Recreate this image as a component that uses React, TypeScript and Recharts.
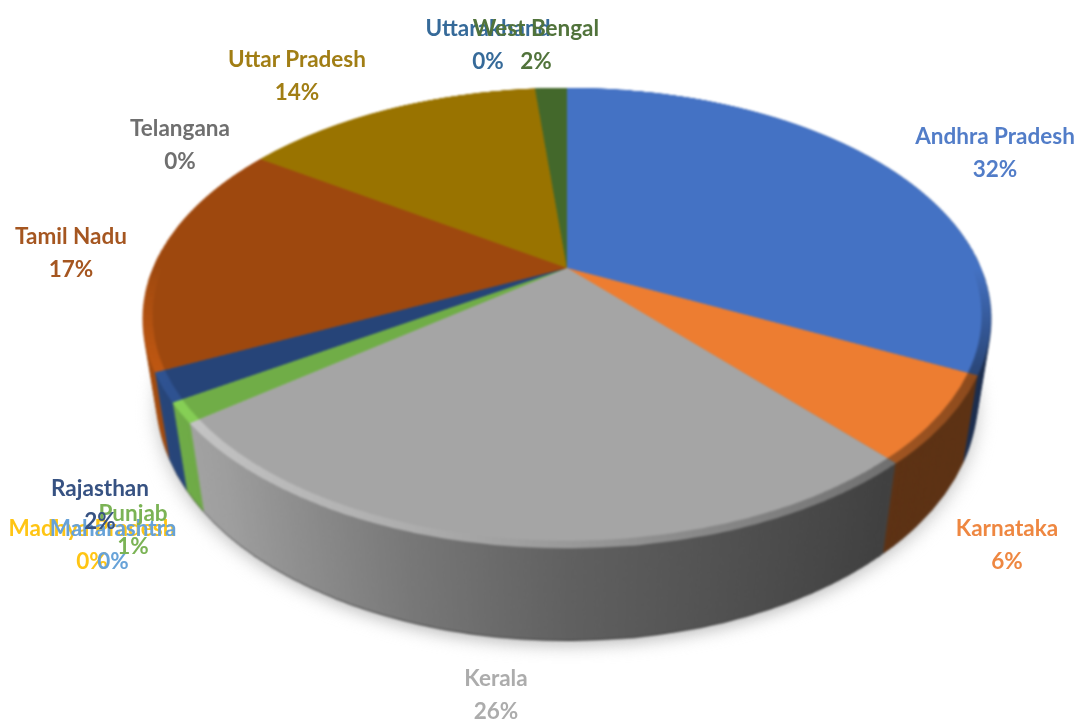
import { PieChart, Pie, Cell } from 'recharts';

const states = [
  'Andhra Pradesh', 'Karnataka', 'Kerala', 'Madhya Pradesh', 'Maharashtra', 'Punjab',
  'Rajasthan', 'Tamil Nadu', 'Telangana', 'Uttar Pradesh', 'Uttarakhand', 'West Bengal',
];
const shares = [32.3, 6.1, 26.1, 0, 0, 1.4, 2.0, 16.5, 0, 14.1, 0, 1.5];
const colors = [
  '#4472C4', '#ED7D31', '#A5A5A5', '#FFC000', '#5B9BD5', '#70AD47',
  '#264478', '#9E480E', '#636363', '#997300', '#255E91', '#43682B',
];
// centre of the name line of each label, the percentage sits one line below
const labelSpots = [
  [995, 135], [1007, 527], [496, 677], [92, 527], [113, 527], [133, 512],
  [100, 487], [71, 235], [180, 127], [297, 58], [488, 27], [536, 27],
];

const sliceData = states.map((name, i) => ({ name, value: shares[i] }));

const BOX = 900;
const RADIUS = 414;
const TILT = 'perspective(1615px) rotateX(58deg)';
const WALL_DEPTH = 99;
const WALL_STEP = 2;

const wallDepths: number[] = [];
for (let d = WALL_DEPTH; d > 0; d -= WALL_STEP) wallDepths.push(d);

function shade(hex: string, f: number) {
  const n = parseInt(hex.slice(1), 16);
  const ch = (v: number) => Math.min(255, Math.round(v * f));
  return `rgb(${ch((n >> 16) & 255)},${ch((n >> 8) & 255)},${ch(n & 255)})`;
}

function SlicePie({ depth, fill, inner = 0, outer = RADIUS, blur }: {
  depth: number; fill: (i: number) => string; inner?: number; outer?: number; blur?: number;
}) {
  return (
    <div style={{
      position: 'absolute', left: 117, top: -182, width: BOX, height: BOX,
      transform: `${TILT} translateZ(${-depth}px)`,
      filter: blur ? `blur(${blur}px)` : undefined,
    }}>
      <PieChart width={BOX} height={BOX} margin={{ top: 0, right: 0, bottom: 0, left: 0 }}>
        <Pie
          data={sliceData} dataKey="value" nameKey="name"
          cx={BOX / 2} cy={BOX / 2} innerRadius={inner} outerRadius={outer}
          startAngle={90} endAngle={-270} stroke="none" isAnimationActive={false}
        >
          {sliceData.map((s, i) => <Cell key={s.name} fill={fill(i)} stroke="none" />)}
        </Pie>
      </PieChart>
    </div>
  );
}

function renderLabel(props: any) {
  const { index, percent } = props;
  const [x, y] = labelSpots[index];
  const common = { x, textAnchor: 'middle' as const, dominantBaseline: 'central' as const, fill: colors[index] };
  return (
    <g key={states[index]}>
      <text {...common} y={y}>{states[index]}</text>
      <text {...common} y={y + 33}>{`${Math.round(percent * 100)}%`}</text>
    </g>
  );
}

export default function App() {
  return (
    <div style={{ position: 'absolute', left: 0, top: 0, width: 1085, height: 724, overflow: 'hidden', background: '#fff' }}>
      <svg width={0} height={0} style={{ position: 'absolute' }}>
        <defs>
          {colors.map((c, i) => (
            <linearGradient key={c} id={`wall-${i}`} gradientUnits="userSpaceOnUse" x1={36} y1={0} x2={864} y2={0}>
              <stop offset="0%" stopColor={shade(c, 1.05)} />
              <stop offset="15%" stopColor={shade(c, 0.95)} />
              <stop offset="35%" stopColor={shade(c, 0.72)} />
              <stop offset="50%" stopColor={shade(c, 0.58)} />
              <stop offset="82%" stopColor={shade(c, 0.39)} />
              <stop offset="100%" stopColor={shade(c, 0.39)} />
            </linearGradient>
          ))}
          {colors.map((c, i) => (
            <linearGradient key={c} id={`rim-${i}`} gradientUnits="userSpaceOnUse" x1={36} y1={0} x2={864} y2={0}>
              <stop offset="0%" stopColor={shade(c, 1.25)} />
              <stop offset="35%" stopColor={shade(c, 1.05)} />
              <stop offset="60%" stopColor={shade(c, 0.85)} />
              <stop offset="100%" stopColor={shade(c, 0.55)} />
            </linearGradient>
          ))}
          {colors.map((c, i) => (
            <linearGradient key={c} id={`back-${i}`} gradientUnits="userSpaceOnUse" x1={0} y1={450} x2={0} y2={640}>
              <stop offset="0%" stopColor={c} stopOpacity={1} />
              <stop offset="100%" stopColor={c} stopOpacity={0} />
            </linearGradient>
          ))}
        </defs>
      </svg>

      <SlicePie depth={WALL_DEPTH + 6} fill={() => '#bdbdbd'} blur={9} />
      <div style={{ position: 'absolute', left: 0, top: 0, width: 1085, height: 724, filter: 'blur(1px)' }}>
        <SlicePie depth={WALL_DEPTH + 1} fill={(i) => shade(colors[i], 0.3)} />
        {wallDepths.map((d) => (
          <SlicePie key={d} depth={d} fill={(i) => `url(#wall-${i})`} />
        ))}
        <SlicePie depth={0} fill={(i) => `url(#rim-${i})`} />
        <SlicePie depth={0} fill={(i) => `url(#back-${i})`} />
        <SlicePie depth={0} fill={(i) => colors[i]} outer={RADIUS - 9} />
      </div>

      <div style={{
        position: 'absolute', left: 0, top: 0, filter: 'blur(0.7px)', opacity: 0.92,
        fontFamily: 'Lato, sans-serif', fontSize: 22.5, fontWeight: 700,
      }}>
        <PieChart width={1085} height={724} margin={{ top: 0, right: 0, bottom: 0, left: 0 }}>
          <Pie
            data={sliceData} dataKey="value" nameKey="name"
            cx={567} cy={268} outerRadius={10} startAngle={90} endAngle={-270}
            fill="none" stroke="none" labelLine={false} label={renderLabel} isAnimationActive={false}
          />
        </PieChart>
      </div>
    </div>
  );
}
